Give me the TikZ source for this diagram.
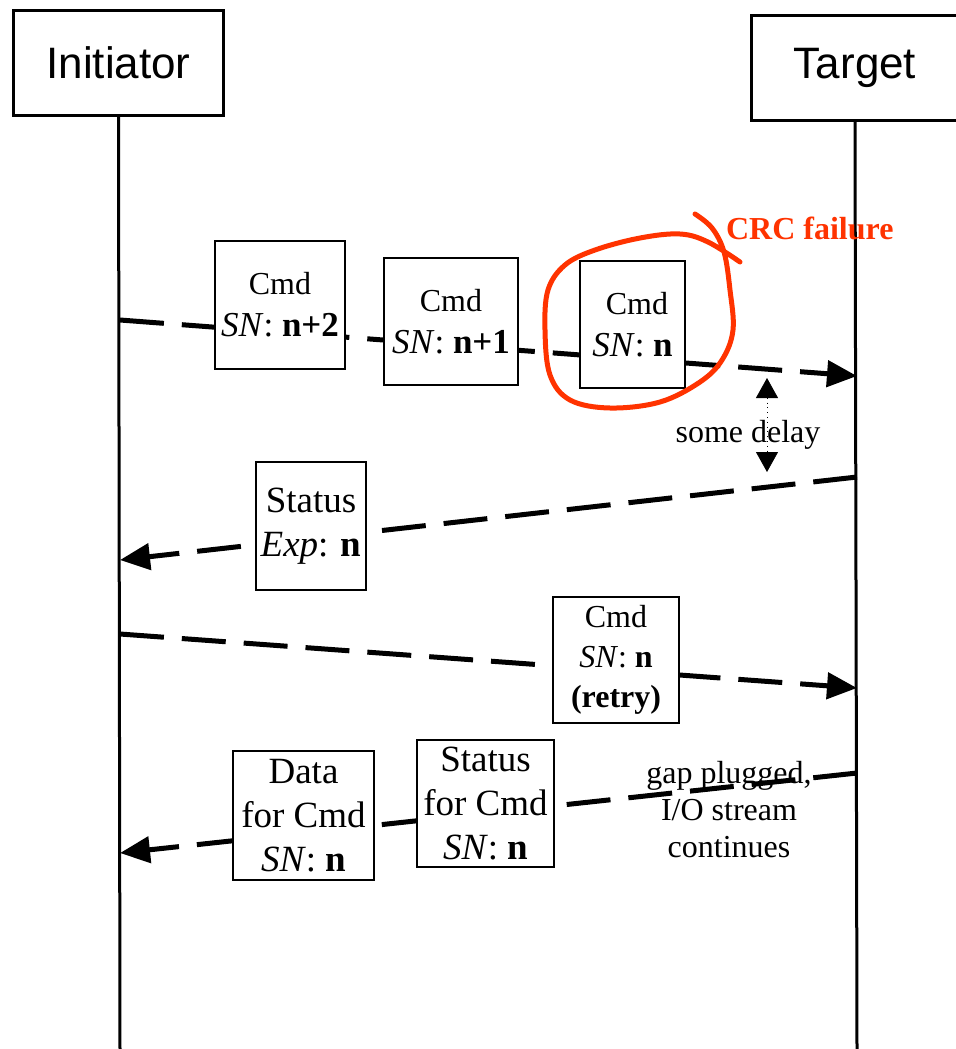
\documentclass[tikz,border=0pt]{standalone}
\usepackage{fontspec}
\setmainfont{Liberation Serif}
\setsansfont{Liberation Sans}
\usetikzlibrary{arrows.meta,backgrounds}

\definecolor{crcred}{HTML}{FF3300}

\tikzset{
    lifebox/.style={draw, line width=1.5pt, font=\sffamily\fontsize{22}{26}\selectfont,
                    minimum width=105pt, minimum height=52.5pt, inner sep=0pt},
    lifeline/.style={line width=1.5pt},
    msg/.style={line width=2.5pt, dash pattern=on 22pt off 9pt,
                -{Triangle[length=15pt,width=13pt]}},
    msgbox/.style={draw, line width=1pt, fill=white, align=center, inner sep=0pt},
    cmdtext/.style={font=\fontsize{17.5}{21}\selectfont},
    smalltext/.style={font=\fontsize{16}{20}\selectfont},
    bigtext/.style={font=\fontsize{18.5}{22}\selectfont},
}

\newcommand{\cmdword}{{\fontsize{16}{21}\selectfont Cmd}}

\begin{document}
\begin{tikzpicture}[x=0.5pt,y=-0.5pt]
        \useasboundingbox (0,0) rectangle (956,1049);

        % the two parties
        \node[lifebox] (init) at (118.5,62.5) {Initiator};
        \node[lifebox, minimum width=104pt] (targ) at (855,67.5) {Target};

        \coordinate (init-end) at (120,1049);
        \coordinate (targ-end) at (857,1049);
        \draw[lifeline] (init.south) -- (init-end);
        \draw[lifeline] (targ.south) -- (targ-end);

        % message ends on the lifelines
        \coordinate (i1) at (120,320);
        \coordinate (t1) at (857,376);
        \coordinate (t2) at (857,477);
        \coordinate (i2) at (120,560);
        \coordinate (i3) at (120,634);
        \coordinate (t3) at (857,688);
        \coordinate (t4) at (857,773);
        \coordinate (i4) at (120,853);

        \begin{scope}[on background layer]
        \draw[msg] (i1) -- (t1);
        \draw[msg] (t2) -- (i2);
        \draw[msg] (i3) -- (t3);
        \draw[msg] (t4) -- (i4);
        \end{scope}

        % the PDUs
        \node[msgbox, cmdtext, minimum width=65pt, minimum height=64pt] (cmd2) at (280,305)
            {\cmdword\\\textit{SN}: \textbf{n+2}};
        \node[msgbox, cmdtext, minimum width=67pt, minimum height=63.5pt] (cmd1) at (451,321.5)
            {\cmdword\\\textit{SN}: \textbf{n+1}};
        \node[msgbox, cmdtext, minimum width=52.5pt, minimum height=63.5pt] (cmd0) at (632.5,324.5)
            {\ \cmdword\\\textit{SN}: \textbf{n}};
        \node[msgbox, bigtext, minimum width=55pt, minimum height=64pt] (stat) at (311,526)
            {Status\\\textit{Exp}: \textbf{n}};
        \node[msgbox, smalltext, minimum width=63pt, minimum height=63pt] (retry) at (616,660)
            {Cmd\\\textit{SN}: \textbf{n}\\\textbf{(retry)}};
        \node[msgbox, bigtext, minimum width=70.5pt, minimum height=64.5pt] (data) at (303.5,815.5)
            {Data\\for Cmd\\\textit{SN}: \textbf{n}};
        \node[msgbox, bigtext, minimum width=68.5pt, minimum height=63.5pt] (stat2) at (485.5,803.5)
            {Status\\for Cmd\\\textit{SN}: \textbf{n}};

        % notes
        \node[anchor=west, text=crcred, font=\bfseries\fontsize{16}{19}\selectfont] (crc) at (719,228) {CRC failure};
        \node[smalltext] (delay) at (748,435) {some delay};
        \coordinate (d-top) at (767,378);
        \coordinate (d-bot) at (767,472);
        \draw[dotted, thin, {Triangle[length=10pt,width=11pt]}-{Triangle[length=10pt,width=11pt]}] (d-top) -- (d-bot);
        \node[align=center, font=\fontsize{16}{18.5}\selectfont] (gap) at (729,810)
            {gap plugged,\\I/O stream\\continues};

        % the lost one
        \draw[crcred, line width=2.5pt, line cap=round]
            plot[smooth, tension=0.6] coordinates {(695,214) (712,228) (724,252) (730,290) (733,330)
            (722,360) (700,382) (660,402) (610,408) (570,400) (550,375) (545,330) (548,290)
            (565,265) (595,250) (640,238) (680,234) (708,242) (740,262)};

    \end{tikzpicture}
\end{document}
